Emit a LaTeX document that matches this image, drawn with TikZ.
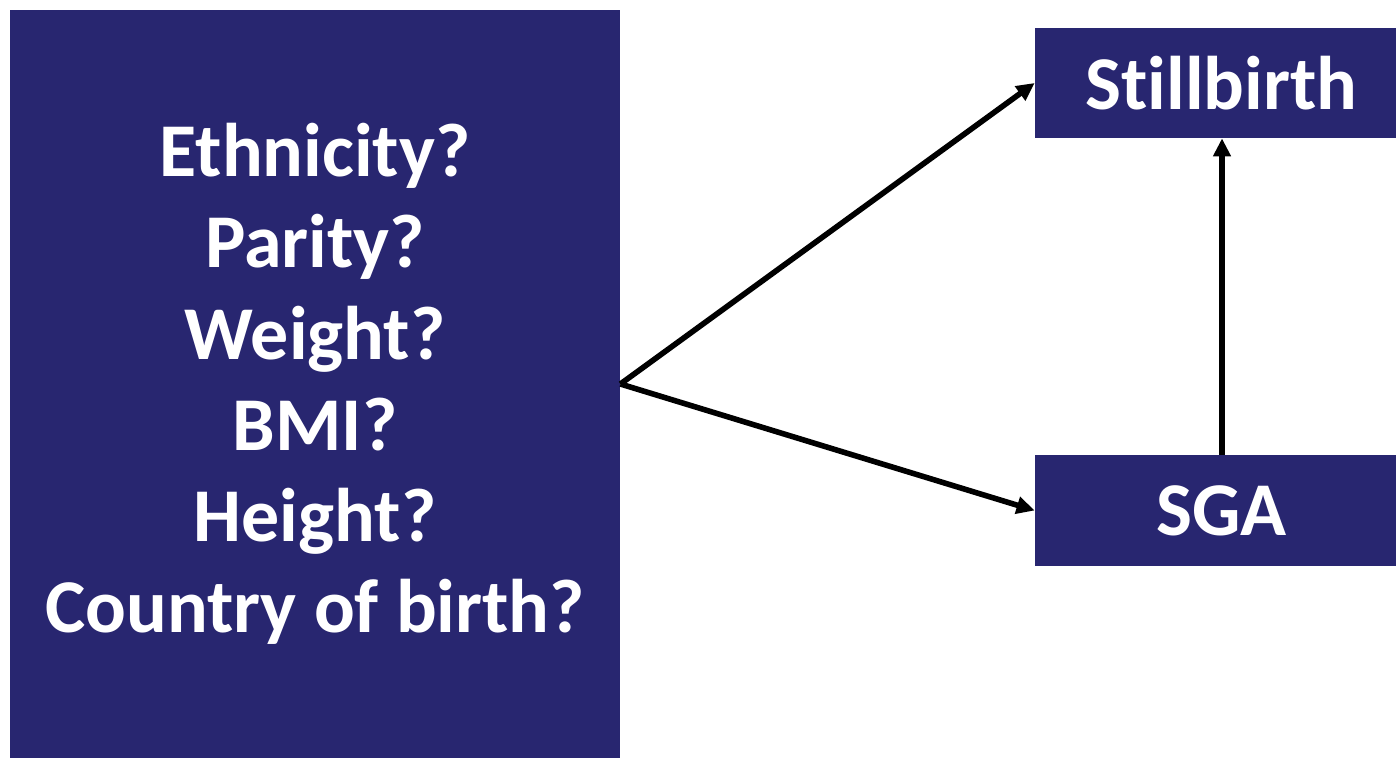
\documentclass[tikz,border=0pt]{standalone}
\usepackage{fontspec}
\setmainfont{Carlito}[Ligatures={NoCommon,NoRare}]
\usetikzlibrary{arrows.meta,positioning}
\definecolor{navy}{RGB}{40,38,112}
\tikzset{
  darkbox/.style={fill=navy, draw=none, inner sep=0pt, align=center,
    text=white, font=\fontsize{38}{45.6}\selectfont\bfseries},
  flow/.style={-{Triangle[length=9pt,width=8.5pt]}, line width=2.8pt}
}
\begin{document}
\begin{tikzpicture}[x=0.5pt, y=-0.5pt]
\useasboundingbox (0,0) rectangle (1396,759);
\node[darkbox, minimum width=305pt, minimum height=374pt] (conf) at (315,384)
  {Ethnicity?\\Parity?\\Weight?\\BMI?\\Height?\\Country of birth?};
\node[darkbox, minimum width=180.5pt, minimum height=55pt] (still) at (1215.5,83) {\hspace{6pt}Stillbirth};
\node[darkbox, minimum width=180.5pt, minimum height=55.5pt] (sga) at (1215.5,510.5) {\hspace{6pt}SGA};

\draw[flow] (conf.east) -- (still.west);
\draw[flow] (conf.east) -- (sga.west);
\draw[flow] ([xshift=3.25pt]sga.north) -- ([xshift=3.25pt]still.south);
\end{tikzpicture}
\end{document}
